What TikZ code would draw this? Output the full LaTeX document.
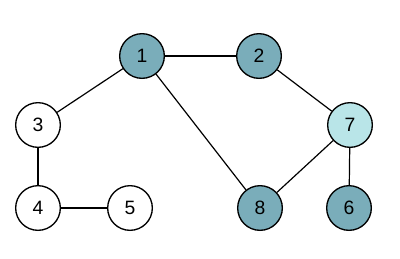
\documentclass[tikz,border=0pt]{standalone}
\usepackage{fontspec}
\setmainfont{Liberation Sans}
\definecolor{teal1}{HTML}{7AADBA}
\definecolor{cyan1}{HTML}{B9E5E8}
\begin{document}
\begin{tikzpicture}[x=0.75pt,y=-0.75pt,
  vtx/.style={circle,draw=black,line width=1pt,minimum size=33.5pt,inner sep=0pt,font=\fontsize{14.5}{14.5}\selectfont},
  edge/.style={line width=0.9pt}]
\useasboundingbox (0,0) rectangle (400,258);
\node[vtx,fill=teal1] (n1) at (142,56) {1};
\node[vtx,fill=teal1] (n2) at (259,56) {2};
\node[vtx,fill=white] (n3) at (38,125) {3};
\node[vtx,fill=white] (n4) at (38,208) {4};
\node[vtx,fill=white] (n5) at (130,208) {5};
\node[vtx,fill=cyan1] (n7) at (350,125) {7};
\node[vtx,fill=teal1] (n8) at (260,208) {8};
\node[vtx,fill=teal1] (n6) at (349,208) {6};
\draw[edge] (n1) -- (n2);
\draw[edge] (n1) -- (n3);
\draw[edge] (n1) -- (n8);
\draw[edge] (n2) -- (n7);
\draw[edge] (n7) -- (n8);
\draw[edge] (n7) -- (n6);
\draw[edge] (n3) -- (n4);
\draw[edge] (n4) -- (n5);
\end{tikzpicture}
\end{document}
